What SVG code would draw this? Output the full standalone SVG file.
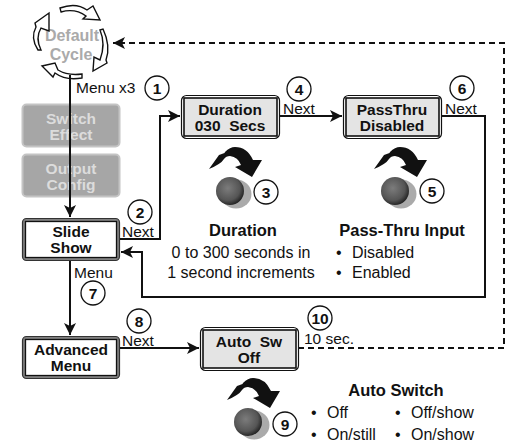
<svg xmlns="http://www.w3.org/2000/svg" width="513" height="444" viewBox="0 0 513 444">
<style>
text{font-family:"Liberation Sans",Arial,sans-serif;fill:#111}
.b{font-weight:bold;font-size:15.5px;text-anchor:middle}
.h{font-weight:bold;font-size:16.5px;text-anchor:middle}
.gt{font-weight:bold;font-size:15.5px;text-anchor:middle;fill:#dcdcdc}
.dc{font-weight:bold;font-size:16px;text-anchor:middle;fill:#aaa}
.l{font-size:15.5px}
.t{font-size:16px}
.n{font-weight:bold;font-size:15.5px;text-anchor:middle}
.c{fill:#fff;stroke:#111;stroke-width:1.3}
.w{fill:none;stroke:#111;stroke-width:2}
.d{fill:none;stroke:#111;stroke-width:2;stroke-dasharray:6 4}
.o{fill:#fff;stroke:#111;stroke-width:1.4;stroke-linejoin:miter}
.lcd{fill:#e4e4e4;stroke:#111;stroke-width:1.6}
.out{fill:#fff;stroke:#111;stroke-width:1.2}
.thick{fill:#808080;stroke:#333;stroke-width:1.2}
.in{fill:#fff;stroke:#111;stroke-width:1.3}
.gr{fill:#a6a6a6;stroke:#c4c4c4;stroke-width:2}
</style>
<defs>
<marker id="a" markerUnits="userSpaceOnUse" markerWidth="14" markerHeight="14" refX="12" refY="7" orient="auto"><path d="M0 1L12 7L0 13L3 7Z" fill="#111"/></marker>
<radialGradient id="k" cx=".42" cy=".4" r=".62"><stop offset="0" stop-color="#7c7c7c"/><stop offset=".7" stop-color="#555"/><stop offset="1" stop-color="#222"/></radialGradient>
<g id="knob">
<ellipse cx="6" cy="3" rx="15.500" ry="14.500" fill="#aaa"/>
<circle r="14" fill="url(#k)"/>
<path d="M-21 -22L-11 -36L-5.500 -38L-5 -39Q0 -44 5 -44Q17 -44 23 -31L32 -31L22 -14L5 -24L11 -26Q8 -34 0 -35Q-4 -35 -6 -32Q-9 -27 -21 -22Z" fill="#111"/>
</g>
</defs>
<g id="default-cycle">
<text class="dc" x="72" y="41">Default</text>
<text class="dc" x="71" y="60">Cycle</text>
<path class="o" d="M60 8Q76 2 87 10L93 6L100 20L83 19L86 16Q75 8 61 12Z"/>
<path class="o" d="M103 29Q111 46 106 60L107 63L93 71L94 57L100 60Q106 44 100 30Z"/>
<path class="o" d="M82 78Q66 81 55 73L53 77L42 66L55 63L58 70Q68 76 82 74Z"/>
<path class="o" d="M38 50Q30 38 36 27L35 23L49 13L49 31L41 28Q35 38 41 50Z"/>
</g>
<g id="switch-effect"><rect class="gr" x="22.500" y="104.500" width="97" height="42" rx="4"/><text class="gt" x="71" y="124">Switch</text><text class="gt" x="71" y="140">Effect</text></g>
<g id="output-config"><rect class="gr" x="22.500" y="154.500" width="97" height="42" rx="4"/><text class="gt" x="71" y="174">Output</text><text class="gt" x="71" y="190">Config</text></g>
<g id="slide-show"><rect class="thick" x="22.500" y="218.500" width="97" height="42" rx="4"/><rect class="in" x="25.500" y="221.500" width="91" height="36"/><text class="b" x="71" y="237">Slide</text><text class="b" x="71" y="253">Show</text></g>
<g id="advanced-menu"><rect class="thick" x="22.500" y="336.500" width="97" height="42" rx="4"/><rect class="in" x="25.500" y="339.500" width="91" height="36"/><text class="b" x="71" y="355">Advanced</text><text class="b" x="71" y="371">Menu</text></g>
<g id="duration"><rect class="out" x="181.500" y="95.500" width="98" height="43" rx="5"/><rect class="lcd" x="184" y="98" width="93" height="38"/><text class="b" x="230" y="115">Duration</text><text class="b" x="230" y="131" xml:space="preserve">030  Secs</text></g>
<g id="passthru"><rect class="out" x="343.500" y="95.500" width="98" height="43" rx="5"/><rect class="lcd" x="346" y="98" width="93" height="38"/><text class="b" x="392" y="115">PassThru</text><text class="b" x="392" y="131">Disabled</text></g>
<g id="auto-sw"><rect class="out" x="200.500" y="327.500" width="98" height="43" rx="5"/><rect class="lcd" x="203" y="330" width="93" height="38"/><text class="b" x="249" y="347" xml:space="preserve">Auto  Sw</text><text class="b" x="249" y="363">Off</text></g>
<g id="knob-3"><use href="#knob" x="230" y="191"/></g>
<g id="knob-5"><use href="#knob" x="395" y="191"/></g>
<g id="knob-9"><use href="#knob" x="248" y="422"/></g>
<g id="connectors">
<path class="w" d="M70 75V217" marker-end="url(#a)"/>
<path class="w" d="M70 261V335" marker-end="url(#a)"/>
<path class="w" d="M120 239H160V116H180" marker-end="url(#a)"/>
<path class="w" d="M280 116H342" marker-end="url(#a)"/>
<path class="w" d="M442 116H485V297H142V252H121" marker-end="url(#a)"/>
<path class="w" d="M120 348H199" marker-end="url(#a)"/>
<path class="d" d="M298 348H504V43H113" marker-end="url(#a)"/>
</g>
<g id="callouts">
<circle class="c" cx="157" cy="88" r="12"/><text class="n" x="157" y="93.500">1</text>
<circle class="c" cx="140" cy="212" r="12"/><text class="n" x="140" y="217.500">2</text>
<circle class="c" cx="266" cy="192" r="12"/><text class="n" x="266" y="197.500">3</text>
<circle class="c" cx="299" cy="89" r="12"/><text class="n" x="299" y="94.500">4</text>
<circle class="c" cx="432" cy="191" r="12"/><text class="n" x="432" y="196.500">5</text>
<circle class="c" cx="462" cy="88" r="12"/><text class="n" x="462" y="93.500">6</text>
<circle class="c" cx="93" cy="293" r="12"/><text class="n" x="93" y="298.500">7</text>
<circle class="c" cx="139" cy="321" r="12"/><text class="n" x="139" y="326.500">8</text>
<circle class="c" cx="285" cy="424" r="12"/><text class="n" x="285" y="429.500">9</text>
<circle class="c" cx="320" cy="318" r="12"/><text class="n" x="320" y="323.500">10</text>
</g>
<g id="labels">
<text class="l" x="76" y="93">Menu x3</text>
<text class="l" x="122" y="237">Next</text>
<text class="l" x="283" y="114">Next</text>
<text class="l" x="445" y="114">Next</text>
<text class="l" x="74" y="278">Menu</text>
<text class="l" x="122" y="346">Next</text>
<text class="l" x="304" y="344">10 sec.</text>
<text class="h" x="243" y="236">Duration</text>
<text class="t" x="241" y="258" text-anchor="middle">0 to 300 seconds in</text>
<text class="t" x="241" y="278" text-anchor="middle">1 second increments</text>
<text class="h" x="402" y="236">Pass-Thru Input</text>
<text class="t" x="336" y="258">•</text><text class="t" x="352" y="258">Disabled</text>
<text class="t" x="336" y="278">•</text><text class="t" x="352" y="278">Enabled</text>
<text class="h" x="396" y="396">Auto Switch</text>
<text class="t" x="311" y="418">•</text><text class="t" x="327" y="418">Off</text>
<text class="t" x="395" y="418">•</text><text class="t" x="411" y="418">Off/show</text>
<text class="t" x="311" y="440">•</text><text class="t" x="327" y="440">On/still</text>
<text class="t" x="395" y="440">•</text><text class="t" x="411" y="440">On/show</text>
</g>
</svg>
